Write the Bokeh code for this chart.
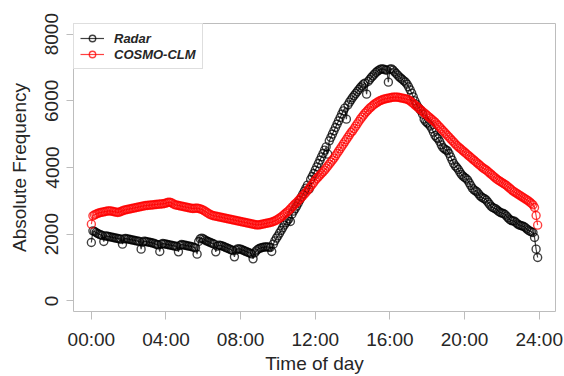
from bokeh.plotting import figure
from bokeh.models import Range1d, FixedTicker, Legend, LegendItem, ColumnDataSource
from bokeh.embed import file_html
from bokeh.resources import INLINE

# Five-minute counts, one row per hour of the day (00:00 ... 23:55)
radar_by_hour = [
    [1750, 2100, 2080, 2050, 2020, 2000, 1980, 1960, 1780, 1950, 1940, 1930],
    [1920, 1910, 1900, 1890, 1880, 1870, 1860, 1850, 1700, 1860, 1870, 1860],
    [1850, 1840, 1830, 1820, 1810, 1800, 1790, 1780, 1550, 1760, 1790, 1780],
    [1770, 1760, 1750, 1740, 1730, 1710, 1690, 1680, 1480, 1700, 1720, 1710],
    [1700, 1690, 1680, 1670, 1660, 1650, 1640, 1630, 1470, 1660, 1690, 1680],
    [1670, 1660, 1650, 1640, 1630, 1620, 1600, 1590, 1400, 1780, 1860, 1880],
    [1860, 1830, 1800, 1780, 1760, 1740, 1720, 1700, 1470, 1640, 1670, 1660],
    [1650, 1630, 1610, 1590, 1570, 1550, 1530, 1510, 1320, 1520, 1560, 1560],
    [1550, 1530, 1510, 1490, 1470, 1450, 1430, 1410, 1260, 1440, 1500, 1540],
    [1570, 1590, 1600, 1610, 1620, 1620, 1610, 1600, 1480, 1700, 1800, 1880],
    [1950, 2030, 2110, 2190, 2270, 2340, 2400, 2460, 2380, 2600, 2690, 2760],
    [2840, 2930, 3020, 3110, 3200, 3290, 3380, 3470, 3350, 3640, 3730, 3820],
    [3920, 4020, 4120, 4220, 4320, 4420, 4520, 4620, 4400, 4800, 4900, 5000],
    [5100, 5200, 5300, 5400, 5500, 5600, 5700, 5780, 5450, 5880, 5960, 6030],
    [6100, 6160, 6220, 6280, 6340, 6400, 6450, 6500, 6530, 6200, 6580, 6640],
    [6700, 6750, 6800, 6850, 6890, 6920, 6950, 6960, 6950, 6930, 6920, 6560],
    [6950, 6960, 6920, 6870, 6820, 6770, 6720, 6680, 6640, 6600, 6560, 6500],
    [6420, 6330, 6230, 6120, 6000, 5900, 5820, 5760, 5700, 5600, 5450, 5380],
    [5340, 5300, 5240, 5160, 5060, 4960, 4900, 4860, 4780, 4680, 4600, 4560],
    [4530, 4500, 4420, 4320, 4220, 4120, 4050, 4000, 3940, 3860, 3790, 3740],
    [3700, 3670, 3620, 3540, 3460, 3380, 3330, 3300, 3270, 3210, 3150, 3110],
    [3080, 3060, 3020, 2960, 2900, 2840, 2800, 2780, 2760, 2720, 2680, 2650],
    [2630, 2620, 2590, 2540, 2490, 2440, 2410, 2400, 2390, 2350, 2310, 2280],
    [2260, 2250, 2230, 2200, 2160, 2120, 2090, 2070, 2050, 1900, 1550, 1300],
]

cosmo_by_hour = [
    [2300, 2550, 2580, 2600, 2620, 2640, 2650, 2660, 2670, 2680, 2690, 2700],
    [2700, 2690, 2680, 2670, 2660, 2650, 2660, 2680, 2700, 2720, 2730, 2740],
    [2750, 2760, 2770, 2780, 2790, 2800, 2810, 2820, 2830, 2840, 2850, 2860],
    [2860, 2870, 2870, 2880, 2880, 2890, 2890, 2900, 2900, 2910, 2910, 2920],
    [2930, 2950, 2960, 2950, 2930, 2900, 2880, 2870, 2860, 2850, 2840, 2830],
    [2820, 2810, 2800, 2790, 2780, 2770, 2770, 2780, 2780, 2770, 2760, 2740],
    [2720, 2690, 2660, 2630, 2600, 2580, 2560, 2550, 2540, 2530, 2520, 2510],
    [2500, 2490, 2480, 2470, 2460, 2450, 2440, 2430, 2420, 2410, 2400, 2390],
    [2380, 2370, 2360, 2350, 2340, 2330, 2320, 2310, 2300, 2290, 2280, 2280],
    [2280, 2290, 2300, 2310, 2320, 2330, 2340, 2350, 2360, 2380, 2400, 2420],
    [2450, 2480, 2510, 2550, 2590, 2630, 2670, 2710, 2760, 2810, 2860, 2910],
    [2950, 3000, 3050, 3100, 3150, 3200, 3250, 3310, 3370, 3430, 3490, 3550],
    [3620, 3670, 3720, 3770, 3820, 3870, 3920, 3980, 4040, 4100, 4160, 4220],
    [4280, 4350, 4420, 4490, 4560, 4630, 4700, 4770, 4840, 4910, 4980, 5050],
    [5100, 5170, 5240, 5310, 5380, 5450, 5510, 5570, 5630, 5680, 5730, 5780],
    [5820, 5860, 5900, 5930, 5960, 5990, 6010, 6030, 6050, 6060, 6070, 6080],
    [6090, 6100, 6110, 6110, 6110, 6110, 6100, 6090, 6080, 6070, 6060, 6050],
    [6030, 6000, 5960, 5920, 5880, 5840, 5800, 5760, 5720, 5680, 5640, 5600],
    [5560, 5520, 5480, 5440, 5400, 5360, 5310, 5260, 5210, 5160, 5110, 5060],
    [5010, 4960, 4910, 4860, 4810, 4760, 4710, 4660, 4620, 4580, 4540, 4500],
    [4460, 4420, 4380, 4340, 4300, 4260, 4220, 4180, 4140, 4100, 4060, 4020],
    [3980, 3950, 3920, 3880, 3840, 3800, 3760, 3720, 3680, 3640, 3610, 3580],
    [3550, 3520, 3490, 3460, 3420, 3380, 3340, 3300, 3270, 3240, 3210, 3180],
    [3150, 3120, 3090, 3060, 3030, 3000, 2960, 2920, 2880, 2800, 2560, 2270],
]

series_names = ["Radar", "COSMO-CLM"]
series_colors = ["black", "red"]
x_tick_hours = [0, 4, 8, 12, 16, 20, 24]
x_tick_labels = ["00:00", "04:00", "08:00", "12:00", "16:00", "20:00", "24:00"]
y_ticks = [0, 2000, 4000, 6000, 8000]

radar = [v for row in radar_by_hour for v in row]
cosmo = [v for row in cosmo_by_hour for v in row]
# time of day in hours, one entry every five minutes
hours = [i * 5 / 60 for i in range(len(radar))]

FONT = "Liberation Sans"
TEXT = "#262626"
FRAME = "#bdbdbd"

p = figure(
    width=564, height=376,
    output_backend="svg", toolbar_location=None,
    x_range=Range1d(-0.957, 24.873), y_range=Range1d(-320, 8320),
    min_border_left=73, min_border_right=9, min_border_top=23, min_border_bottom=63,
)
p.grid.visible = False
p.outline_line_color = FRAME
p.outline_line_width = 1
p.background_fill_color = "white"
p.border_fill_color = "white"

p.xaxis.ticker = FixedTicker(ticks=x_tick_hours)
p.xaxis.major_label_overrides = dict(zip(x_tick_hours, x_tick_labels))
p.yaxis.ticker = FixedTicker(ticks=y_ticks)
p.yaxis.major_label_orientation = "parallel"
p.xaxis.axis_label = "Time of day"
p.yaxis.axis_label = "Absolute Frequency"

for ax in (p.xaxis, p.yaxis):
    ax.axis_line_color = None
    ax.major_tick_line_color = FRAME
    ax.major_tick_in = 0
    ax.minor_tick_line_color = None
    ax.major_label_text_font = FONT
    ax.major_label_text_font_size = "19px"
    ax.major_label_text_color = TEXT
    ax.axis_label_text_font = FONT
    ax.axis_label_text_font_size = "19px"
    ax.axis_label_text_font_style = "normal"
    ax.axis_label_text_color = TEXT
p.xaxis.major_tick_out = 8
p.yaxis.major_tick_out = 7
p.xaxis.major_label_standoff = 9
p.xaxis.axis_label_standoff = 0
p.yaxis.major_label_standoff = 8
p.yaxis.axis_label_standoff = 13

items = []
for name, color, values in zip(series_names, series_colors, [radar, cosmo]):
    src = ColumnDataSource(dict(x=hours, y=values))
    ln = p.line("x", "y", source=src, line_color=color, line_alpha=0.75, line_width=1.2)
    sc = p.scatter("x", "y", source=src, marker="circle", size=8,
                   fill_color=None, line_color=color, line_alpha=0.75, line_width=1.4)
    items.append(LegendItem(label=name, renderers=[ln, sc]))

legend = Legend(
    items=items, location="top_left", margin=0, padding=6, spacing=0,
    label_standoff=10, glyph_width=24, glyph_height=16, label_height=16,
    label_text_font=FONT, label_text_font_size="13px",
    label_text_font_style="bold italic", label_text_color=TEXT,
    border_line_color=FRAME, background_fill_color="white", background_fill_alpha=1,
)
p.add_layout(legend)

with open("out.html", "w") as f:
    f.write(file_html(p, INLINE))
